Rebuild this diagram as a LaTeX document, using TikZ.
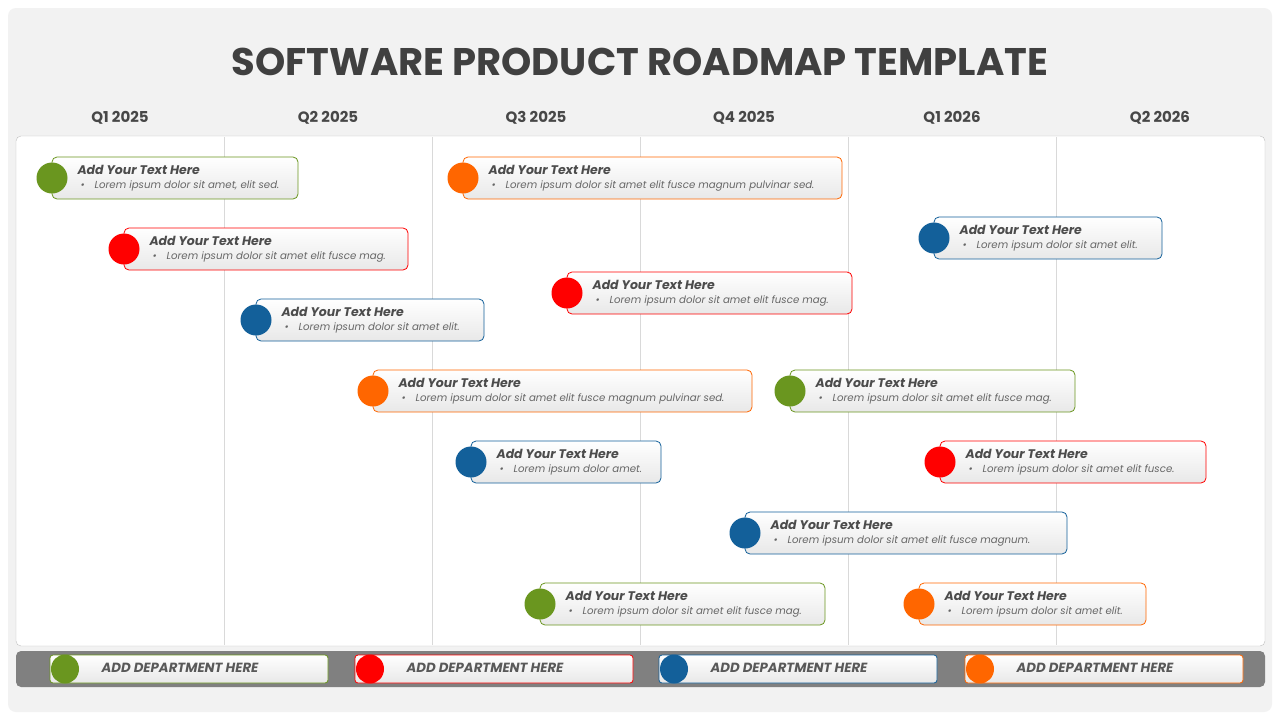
\documentclass[tikz,border=0pt]{standalone}
\usepackage{fontspec}
\usetikzlibrary{shapes.geometric}
\setmainfont{Poppins}
\begin{document}
\begin{tikzpicture}[x=1pt,y=-1pt,
  card/.style={draw=#1,line width=0.8pt,rounded corners=5pt,top color=white,bottom color=black!9},
  dot/.style={circle,fill=#1,minimum size=31pt,inner sep=0pt},
  ttl/.style={anchor=west,font=\fontsize{12.5}{14}\selectfont\bfseries\itshape,text=black!70},
  lor/.style={anchor=west,font=\fontsize{10.2}{12}\selectfont\itshape,text=black!60},
  q/.style={font=\fontsize{15}{17}\selectfont\bfseries,text=black!72},
  dept/.style={font=\fontsize{13.3}{15}\selectfont\bfseries\itshape,text=black!65}]
\definecolor{cg}{HTML}{6A961F}\definecolor{cr}{HTML}{FF0000}
\definecolor{cb}{HTML}{13609A}\definecolor{co}{HTML}{FF6600}
\useasboundingbox (0,0) rectangle (1280,720);
\fill[white] (0,0) rectangle (1280,720);
\fill[black!5,rounded corners=8pt] (8,8) rectangle (1272,712);
\node[font=\fontsize{38.5}{44}\selectfont\bfseries,text=black!75] (title) at (640,62) {SOFTWARE PRODUCT ROADMAP TEMPLATE};
\draw[fill=white,draw=black!25,rounded corners=5pt] (16,136) rectangle (1265,646);
\foreach \x in {224,432,640,848,1056} \draw[black!15] (\x,137) -- (\x,645);
\foreach \x/\t [count=\i] in {120/Q1 2025,328/Q2 2025,536/Q3 2025,744/Q4 2025,952/Q1 2026,1160/Q2 2026}
  \node[q] (q\i) at (\x,118) {\t};
\foreach \cx/\cy/\r/\c/\t [count=\i] in {
 52/178/298/cg/{Lorem ipsum dolor sit amet, elit sed.},
 124/249/408/cr/{Lorem ipsum dolor sit amet elit fusce mag.},
 256/320/484/cb/{Lorem ipsum dolor sit amet elit.},
 373/391/752/co/{Lorem ipsum dolor sit amet elit fusce magnum pulvinar sed.},
 471/462/661/cb/{Lorem ipsum dolor amet.},
 540/604/825/cg/{Lorem ipsum dolor sit amet elit fusce mag.},
 463/178/842/co/{Lorem ipsum dolor sit amet elit fusce magnum pulvinar sed.},
 567/293/852/cr/{Lorem ipsum dolor sit amet elit fusce mag.},
 790/391/1075/cg/{Lorem ipsum dolor sit amet elit fusce mag.},
 745/533/1067/cb/{Lorem ipsum dolor sit amet elit fusce magnum.},
 934/238/1162/cb/{Lorem ipsum dolor sit amet elit.},
 940/462/1206/cr/{Lorem ipsum dolor sit amet elit fusce.},
 919/604/1146/co/{Lorem ipsum dolor sit amet elit.}} {
  \draw[card=\c] (\cx,\cy-21) rectangle (\r,\cy+21);
  \node[dot=\c] (d\i) at (\cx,\cy) {};
  \node[ttl] (t\i) at (\cx+22,\cy-8) {Add Your Text Here};
  \node[lor] (l\i) at (\cx+25,\cy+7.5) {\textbullet\hspace{10pt}\t};
}
\fill[black!50,rounded corners=5pt] (16,651) rectangle (1265,687);
\foreach \l/\c [count=\i] in {50/cg,355/cr,659/cb,965/co} {
  \draw[card=\c,rounded corners=3pt] (\l,655) rectangle (\l+278,683);
  \node[ellipse,fill=\c,minimum width=28pt,minimum height=29pt,inner sep=0pt] (e\i) at (\l+15,669) {};
  \node[dept] (p\i) at (\l+130,668) {ADD DEPARTMENT HERE};
}
\end{tikzpicture}
\end{document}
